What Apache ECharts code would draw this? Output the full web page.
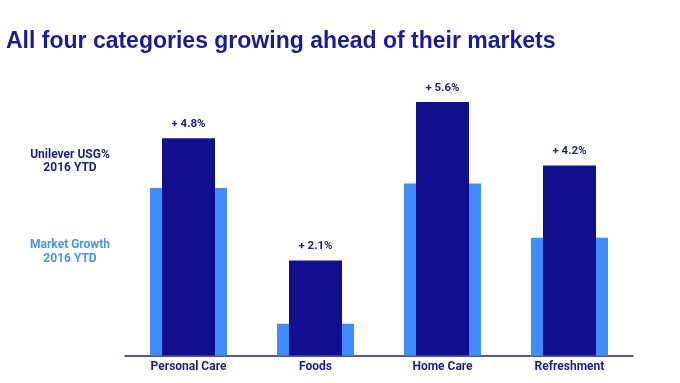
<!DOCTYPE html>
<html>
<head>
<meta charset="utf-8">
<script src="https://cdn.jsdelivr.net/npm/echarts@6/dist/echarts.min.js"></script>
<style>html,body{margin:0;padding:0;background:#fff;}#c{width:680px;height:383px;}</style>
</head>
<body>
<div id="c"></div>
<script>
const categories = ['Personal Care', 'Foods', 'Home Care', 'Refreshment'];
const unileverUSG = [4.8, 2.1, 5.6, 4.2];
const marketGrowth = [3.7, 0.7, 3.8, 2.6];
const titleText = 'All four categories growing ahead of their markets';
const legendUSG = 'Unilever USG%\n2016 YTD';
const legendMarket = 'Market Growth\n2016 YTD';

const NAVY = '#120f8e';
const LIGHT = '#3f8cfc';
const chart = echarts.init(document.getElementById('c'), null, {renderer: 'canvas'});
chart.setOption({
  animation: false,
  backgroundColor: '#fff',
  title: [{
    text: titleText, left: 1, top: 25, padding: 5,
    textStyle: {fontFamily: 'Liberation Sans', fontWeight: 'bold', fontSize: 23, color: '#1b1b9a'}
  }, {
    text: legendUSG, left: 65, top: 143, textAlign: 'center',
    textStyle: {fontFamily: 'Roboto', fontWeight: 'bold', fontSize: 12, lineHeight: 13, color: '#1c1f80'}
  }, {
    text: legendMarket, left: 65, top: 233, textAlign: 'center',
    textStyle: {fontFamily: 'Roboto', fontWeight: 'bold', fontSize: 12, lineHeight: 14, color: '#4a92f2'}
  }],
  grid: {left: 125, width: 508, top: 84, height: 271.5},
  xAxis: [{
    type: 'category', data: categories,
    axisLine: {show: true, lineStyle: {color: '#1c1f80', width: 1.5}},
    axisTick: {show: false},
    axisLabel: {fontFamily: 'Roboto', fontWeight: 'bold', fontSize: 12, color: '#1c1f80', margin: 5}
  }, {
    type: 'category', data: categories, show: false, position: 'bottom'
  }],
  yAxis: {type: 'value', min: 0, max: 6, show: false, splitLine: {show: false}},
  series: [{
    type: 'bar', name: 'Market Growth', xAxisIndex: 1, data: marketGrowth,
    barWidth: 77, itemStyle: {color: LIGHT}, z: 1
  }, {
    type: 'bar', name: 'Unilever USG%', xAxisIndex: 0, data: unileverUSG,
    barWidth: 53, itemStyle: {color: NAVY}, z: 2,
    label: {show: true, position: 'top', distance: 8, formatter: p => '+ ' + p.value + '%',
      fontFamily: 'Roboto', fontWeight: 'bold', fontSize: 11.5, color: '#1c1f80'}
  }]
});
</script>
</body>
</html>
